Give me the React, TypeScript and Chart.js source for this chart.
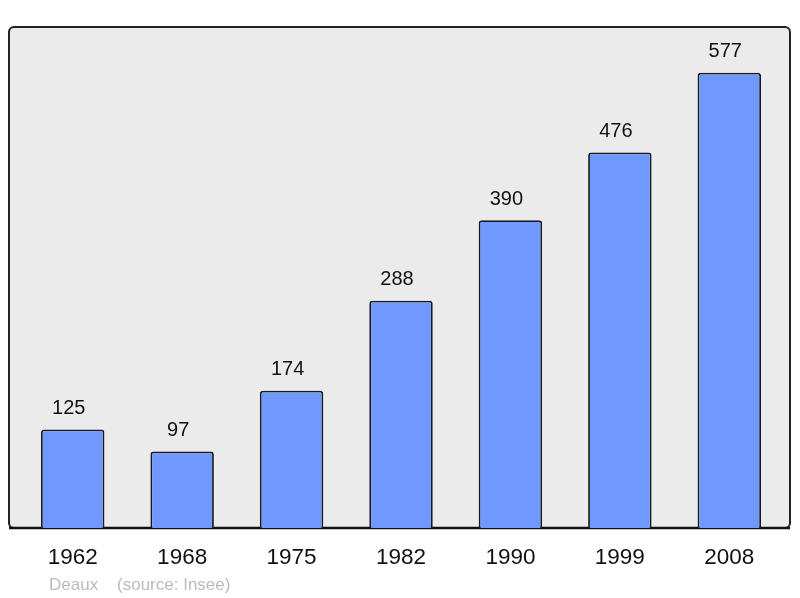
import { useEffect, useRef } from "react";
import { Chart, registerables, type Plugin } from "chart.js";

Chart.register(...registerables);

const years = ["1962", "1968", "1975", "1982", "1990", "1999", "2008"];
const population = [125, 97, 174, 288, 390, 476, 577];
const footerText = "Deaux    (source: Insee)";

const FONT = "'Liberation Sans', Arial, sans-serif";

const framePlugin: Plugin<"bar"> = {
  id: "frame",
  beforeDraw(chart) {
    const { ctx, chartArea } = chart;
    const left = chartArea.left - 9;
    const right = chartArea.right + 6;
    const top = chartArea.top;
    const bottom = chartArea.bottom;
    ctx.save();
    ctx.beginPath();
    ctx.roundRect(left, top, right - left, bottom - top, 5);
    ctx.fillStyle = "#ebebeb";
    ctx.fill();
    ctx.lineWidth = 2;
    ctx.strokeStyle = "#222";
    ctx.stroke();
    ctx.beginPath();
    ctx.moveTo(left, bottom);
    ctx.lineTo(right, bottom);
    ctx.lineWidth = 2.5;
    ctx.strokeStyle = "#111";
    ctx.stroke();
    ctx.restore();
  },
  afterDatasetsDraw(chart) {
    const { ctx } = chart;
    const meta = chart.getDatasetMeta(0);
    ctx.save();
    ctx.font = `20px ${FONT}`;
    ctx.fillStyle = "#111";
    ctx.textAlign = "center";
    ctx.textBaseline = "middle";
    meta.data.forEach((bar, i) => {
      ctx.fillText(String(population[i]), bar.x - 4, bar.y - 21);
    });
    ctx.font = `17px ${FONT}`;
    ctx.fillStyle = "#bbbbbb";
    ctx.textAlign = "left";
    ctx.fillText(footerText, chart.chartArea.left + 31, chart.chartArea.bottom + 57);
    ctx.restore();
  },
};

export default function App() {
  const canvasRef = useRef<HTMLCanvasElement | null>(null);

  useEffect(() => {
    if (!canvasRef.current) return;
    const chart = new Chart(canvasRef.current, {
      type: "bar",
      data: {
        labels: years,
        datasets: [
          {
            data: population,
            backgroundColor: "rgb(112,153,255)",
            borderColor: "#1a1a1a",
            borderWidth: 1.8,
            borderRadius: 3,
            borderSkipped: "bottom",
            barPercentage: 0.58,
            categoryPercentage: 1,
          },
        ],
      },
      options: {
        responsive: false,
        animation: false,
        layout: { padding: { left: 18, right: 16, top: 27, bottom: 0 } },
        plugins: {
          legend: { display: false },
          tooltip: { enabled: false },
        },
        scales: {
          x: {
            grid: { display: false, drawTicks: false },
            border: { display: false },
            ticks: {
              color: "#111",
              font: { family: FONT, size: 22.5 },
              padding: 16,
            },
            afterFit(scale) {
              scale.height = 70;
            },
          },
          y: {
            display: false,
            min: 0,
            max: 635,
          },
        },
      },
      plugins: [framePlugin],
    });
    return () => chart.destroy();
  }, []);

  return (
    <div style={{ position: "fixed", left: 0, top: 0, width: 800, height: 598, background: "#fff" }}>
      <canvas ref={canvasRef} width={800} height={598} />
    </div>
  );
}
